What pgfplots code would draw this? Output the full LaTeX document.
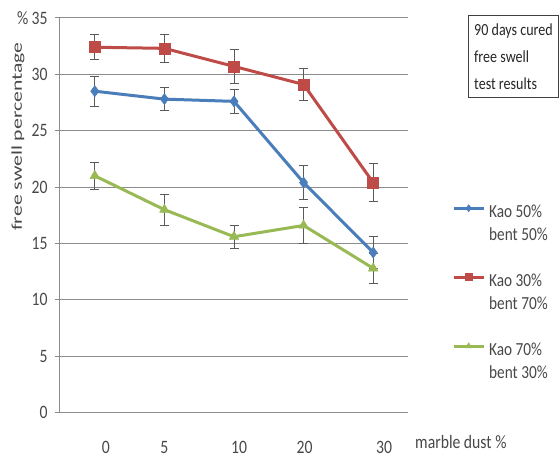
\documentclass[border=0pt]{standalone}
\usepackage{fontspec}
\setmainfont{Carlito}[FakeStretch=0.83]
\newfontfamily\ylabfont{Carlito}[FakeStretch=1.45]
\usepackage{pgfplots}
\pgfplotsset{compat=1.18}

\definecolor{kaoA}{HTML}{4A7EBB}
\definecolor{kaoB}{HTML}{BE4B48}
\definecolor{kaoC}{HTML}{98B954}
\definecolor{gridc}{HTML}{8C8C8C}
\definecolor{txt}{HTML}{484848}
\definecolor{errc}{HTML}{5A5A5A}

% shift a category label to the right by half of #1
\newcommand\shlab[2]{\hspace*{#1}#2}

\pgfplotsset{
  series/.style={
    color=#1, line width=3bp, mark size=5.5bp,
    mark options={solid, fill=#1, draw=#1, line width=0.5bp},
    error bars/.cd, y dir=both, y explicit,
    error bar style={errc, line width=0.7bp},
    error mark options={rotate=90, mark size=4.5bp, errc, line width=0.7bp},
    /pgfplots/.cd,
  },
}

\begin{document}
\begin{tikzpicture}
\useasboundingbox (-60bp,-46.3bp) rectangle (499bp,412.7bp);
\begin{axis}[
  scale only axis, width=348bp, height=394.8bp,
  at={(0,0)}, anchor=south west,
  xmin=-0.5, xmax=4.5, ymin=0, ymax=35,
  axis x line*=bottom, axis y line*=left,
  axis line style={gridc, line width=1bp},
  xtick={0,1,2,3,4},
  xticklabels={\shlab{22bp}{0},5,\shlab{10bp}{10},\shlab{2bp}{20},\shlab{22bp}{30}},
  major x tick style={draw=none},
  extra x ticks={-0.5,0.5,1.5,2.5,3.5,4.5}, extra x tick labels={},
  extra x tick style={grid=none, tick align=center, major tick length=6bp,
    major tick style={draw=gridc, line width=1bp}},
  ytick={0,5,...,35}, yticklabels={0,5,10,15,20,25,30,{\%\,35}},
  ymajorgrids, grid style={gridc, line width=1bp},
  tick align=outside, major tick length=5bp,
  major y tick style={draw=gridc, line width=1bp},
  /pgf/number format/assume math mode=true,
  tick label style={font=\fontsize{19}{22}\selectfont, text=txt},
  xticklabel style={anchor=base, inner sep=0pt, yshift=-36bp},
  yticklabel style={anchor=east, xshift=-4bp},
  ylabel={\ylabfont free swell percentage},
  ylabel style={at={(axis description cs:-0.1207,0.6996)}, anchor=center,
    font=\fontsize{15}{17}\selectfont, text=txt},
  legend style={at={(1.1264,0.5286)}, anchor=north west, draw=none,
    fill=none, inner sep=0pt, row sep=6bp, column sep=4bp,
    nodes={inner sep=0pt, text height=13bp, text depth=4bp,
      font=\fontsize{18.5}{20}\selectfont, text=txt}},
  legend cell align=left,
  legend image code/.code={%
    \draw[#1, mark size=3.5bp, mark repeat=2, mark phase=2]
      plot coordinates {(0bp,4.5bp) (15bp,4.5bp) (30bp,4.5bp)};},
  clip=false,
]
% Kao 50% / bent 50%
\addplot[mark=diamond*, series=kaoA] coordinates {
  (0,28.5) +- (0,1.3)
  (1,27.8) +- (0,1.0)
  (2,27.6) +- (0,1.1)
  (3,20.4) +- (0,1.5)
  (4,14.2) +- (0,1.4)
};
\addlegendentry{Kao 50\%}
\addlegendimage{empty legend}\addlegendentry{bent 50\%}
\addlegendimage{empty legend}\addlegendentry{}
% Kao 30% / bent 70%
\addplot[mark=square*, series=kaoB] coordinates {
  (0,32.4) +- (0,1.1)
  (1,32.3) +- (0,1.2)
  (2,30.7) +- (0,1.5)
  (3,29.1) +- (0,1.4)
  (4,20.4) +- (0,1.7)
};
\addlegendentry{Kao 30\%}
\addlegendimage{empty legend}\addlegendentry{bent 70\%}
\addlegendimage{empty legend}\addlegendentry{}
% Kao 70% / bent 30%
\addplot[mark=triangle*, series=kaoC] coordinates {
  (0,21.0) +- (0,1.2)
  (1,18.0) +- (0,1.35)
  (2,15.6) +- (0,1.0)
  (3,16.6) +- (0,1.6)
  (4,12.8) +- (0,1.3)
};
\addlegendentry{Kao 70\%}
\addlegendimage{empty legend}\addlegendentry{bent 30\%}
\end{axis}
\node[anchor=base west, inner sep=0pt, font=\fontsize{19}{22}\selectfont, text=txt]
  at (355bp,-36bp) {marble dust \%};
\node[draw=black!75, line width=1bp, anchor=north west, align=left,
  inner xsep=3bp, inner ysep=4bp, minimum width=90bp, minimum height=82bp,
  font=\fontsize{17}{27}\selectfont, text=black!85]
  at (408bp,397.7bp) {90 days cured\\free swell\\test results};
\end{tikzpicture}
\end{document}
